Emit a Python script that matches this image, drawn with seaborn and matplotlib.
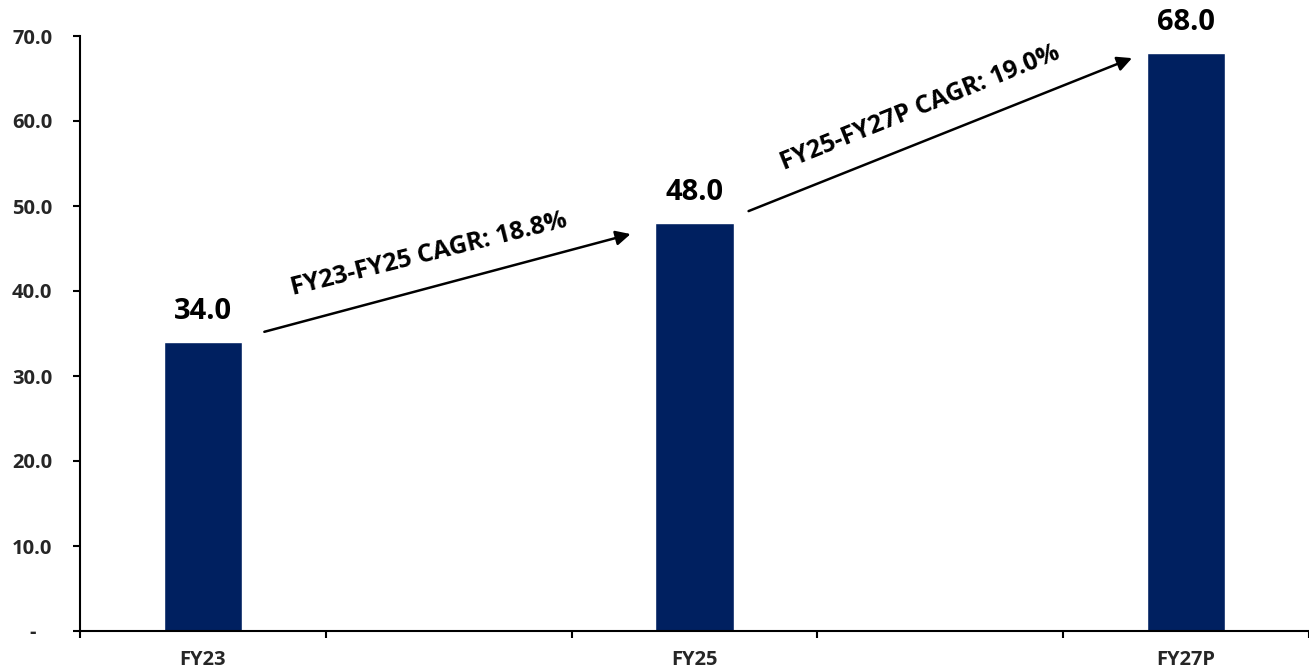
import numpy as np
import pandas as pd
import matplotlib
matplotlib.use("Agg")
import matplotlib.pyplot as plt
import seaborn as sns

# ---- data ----
categories = ["FY23", "FY24", "FY25", "FY26", "FY27P"]
shown_labels = ["FY23", "", "FY25", "", "FY27P"]
values = [34.0, np.nan, 48.0, np.nan, 68.0]
cagr_labels = ["FY23-FY25 CAGR: 18.8%", "FY25-FY27P CAGR: 19.0%"]
y_ticks = [0, 10, 20, 30, 40, 50, 60, 70]

sns.set_theme(style="white")
plt.rcParams["font.family"] = ["Open Sans", "DejaVu Sans"]
plt.rcParams["font.weight"] = "bold"

df = pd.DataFrame({"cat": categories, "val": values})

fig = plt.figure(figsize=(13.09, 6.71), dpi=100)
ax = fig.add_axes([80 / 1309, 40 / 671, 1 - 80 / 1309, (631 - 36) / 671])

sns.barplot(data=df, x="cat", y="val", order=categories, color="#002060",
            saturation=1, width=0.32, ax=ax)

ax.set_xlim(-0.5, 4.5)
ax.set_ylim(0, 70)
ax.set_xlabel("")
ax.set_ylabel("")

# y axis
ax.set_yticks(y_ticks)
ax.set_yticklabels(["-   "] + [f"{v:.1f}" for v in y_ticks[1:]],
                   fontsize=14.5, fontweight="bold")
ax.tick_params(axis="y", direction="out", length=5, width=1.5, color="black",
               pad=15, left=True)

# x axis: ticks at category boundaries, labels at centres
ax.set_xticks(np.arange(len(categories)))
ax.set_xticklabels(shown_labels, fontsize=14.5, fontweight="bold")
ax.tick_params(axis="x", which="major", length=0, pad=14)
ax.set_xticks(np.arange(len(categories) + 1) - 0.5, minor=True)
ax.tick_params(axis="x", which="minor", direction="out", length=5, width=1.5,
               color="black", bottom=True)

for s in ["top", "right"]:
    ax.spines[s].set_visible(False)
for s in ["left", "bottom"]:
    ax.spines[s].set_color("black")
    ax.spines[s].set_linewidth(1.5)

# value labels
for i, v in enumerate(values):
    if not np.isnan(v):
        ax.text(i, v + 3.6, f"{v:.1f}", ha="center", va="center",
                fontsize=21, fontweight="bold", color="black", clip_on=False)

# CAGR arrows & texts
idx = [i for i, v in enumerate(values) if not np.isnan(v)]
arrow_specs = [
    ((idx[0] + 0.25, values[idx[0]] + 1.2), (idx[1] - 0.26, values[idx[1]] - 1.3)),
    ((idx[1] + 0.22, values[idx[1]] + 1.4), (idx[2] - 0.22, values[idx[2]] - 0.6)),
]
text_specs = [((0.92, 44.3), 14), ((2.92, 61.5), 22)]
for (start, end), label, ((tx, ty), rot) in zip(arrow_specs, cagr_labels, text_specs):
    ax.annotate("", xy=end, xytext=start,
                arrowprops=dict(arrowstyle="-|>", color="black", lw=1.8,
                                mutation_scale=22, shrinkA=0, shrinkB=0),
                annotation_clip=False)
    ax.text(tx, ty, label, rotation=rot, rotation_mode="anchor", ha="center",
            va="center", fontsize=18, fontweight="bold", color="black")

fig.savefig("out.png", dpi=100)
